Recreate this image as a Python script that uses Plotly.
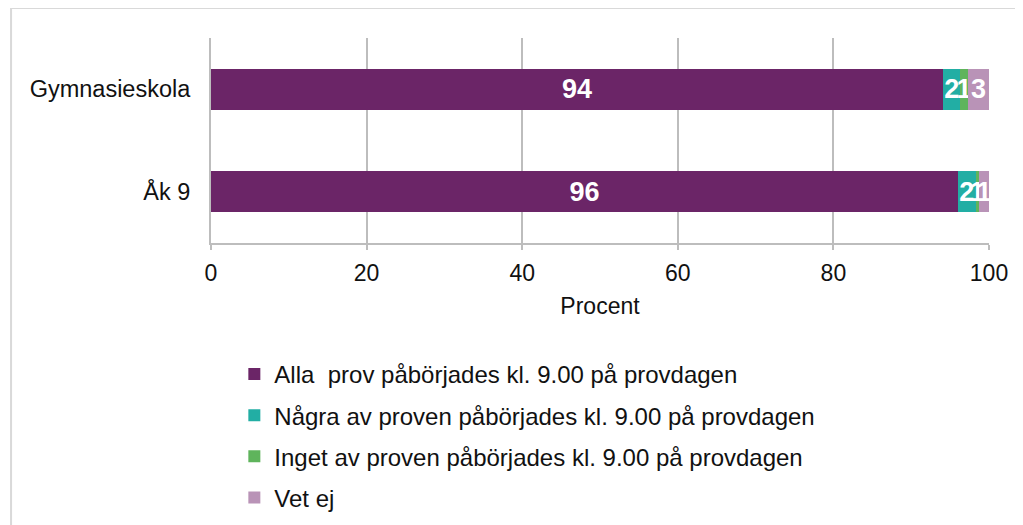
import plotly.graph_objects as go

# Data
categories = ["Gymnasieskola", "Åk 9"]
series_names = [
    "Alla  prov påbörjades kl. 9.00 på provdagen",
    "Några av proven påbörjades kl. 9.00 på provdagen",
    "Inget av proven påbörjades kl. 9.00 på provdagen",
    "Vet ej",
]
alla = [94.1, 96.0]
nagra = [2.2, 2.3]
inget = [1.0, 0.4]
vet_ej = [2.7, 1.3]
alla_labels = ["94", "96"]
nagra_labels = ["2", "2"]
inget_labels = ["1", "1"]
vet_ej_labels = ["3", "1"]
x_ticks = [0, 20, 40, 60, 80, 100]

colors = ["#6b2567", "#22aea4", "#5fb45c", "#b993b7"]
font = "Liberation Sans, Arial, sans-serif"

fig = go.Figure()
for i, (name, vals, labels) in enumerate(zip(series_names,
                                            [alla, nagra, inget, vet_ej],
                                            [alla_labels, nagra_labels, inget_labels, vet_ej_labels])):
    fig.add_trace(go.Bar(
        y=categories, x=vals, name=name, orientation="h",
        marker=dict(color=colors[i], line_width=0),
        text=labels, textposition="inside", insidetextanchor="middle",
        textfont=dict(family=font, size=27, color="white", weight="bold"),
        legendgroup=str(i),
        hoverinfo="x+name",
    ))

# page body has an 8px margin, so the figure is 8px smaller than the window
grid_col = "#bdbdbd"
fig.update_layout(
    barmode="stack",
    bargap=0.6,
    width=1015, height=517,
    margin=dict(l=203, r=34, t=30, b=282, autoexpand=False),
    paper_bgcolor="white", plot_bgcolor="white",
    font=dict(family=font, size=23, color="#111111"),
    uniformtext=dict(mode="show", minsize=27),
    xaxis=dict(range=[0, 100], tickvals=x_ticks, showgrid=True, gridcolor=grid_col, gridwidth=2,
               showline=True, linecolor=grid_col, linewidth=2, ticks="outside", ticklen=5,
               tickcolor=grid_col, tickwidth=2, zeroline=False, ticklabelstandoff=3,
               tickfont=dict(size=23),
               title=dict(text="Procent", standoff=13, font=dict(size=23))),
    yaxis=dict(autorange="reversed", showline=True, linecolor=grid_col, linewidth=2,
               ticks="", showgrid=False, ticklabelstandoff=14, tickfont=dict(size=23.5)),
    legend=dict(orientation="v", x=0.03, xanchor="left", y=-0.531, yanchor="top",
                traceorder="grouped", tracegroupgap=7, font=dict(size=24)),
    shapes=[dict(type="rect", xref="paper", yref="paper", x0=-0.257, x1=1.06, y0=-1.5, y1=1.146,
                 line=dict(color="#d9d9d9", width=2), layer="below")],
)

fig.write_html("out.html")
